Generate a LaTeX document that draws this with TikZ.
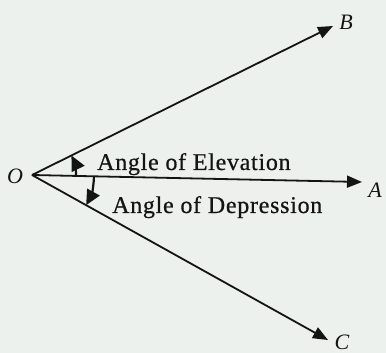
\documentclass[tikz,border=0pt]{standalone}
\usepackage{fontspec}
\setmainfont{Liberation Serif}
\usepackage{xcolor}
\usetikzlibrary{arrows.meta}
\definecolor{scanbg}{HTML}{EDF1EE}
\definecolor{ink}{HTML}{141414}

\begin{document}
\begin{tikzpicture}[x=1pt, y=1pt,
  arrow/.style={-{Triangle[length=15pt, width=12pt]}, line width=1.8pt, ink},
  small/.style={-{Triangle[length=15pt, width=14pt]}, line width=2.2pt, ink},
  pt/.style={font=\fontsize{22}{24}\selectfont\itshape, text=ink, inner sep=0pt},
  lbl/.style={font=\fontsize{24}{26}\selectfont\addfontfeatures{LetterSpace=3, FakeBold=0.6}, text=ink, inner sep=0pt, anchor=base west}
]
  \fill[scanbg] (0,0) rectangle (386,353);
  \useasboundingbox (0,0) rectangle (386,353);

  \coordinate (o) at (32,178);
  \coordinate (a) at (362,171);
  \coordinate (b) at (333,327);
  \coordinate (c) at (328,13);

  \node[pt] (lblO) at (15,177) {O};
  \node[pt] (lblA) at (375,163) {A};
  \node[pt] (lblB) at (346,331) {B};
  \node[pt] (lblC) at (342,11) {C};

  \draw[arrow] (o) -- (a);
  \draw[arrow] (o) -- (b);
  \draw[arrow] (o) -- (c);

  % angle arrows
  \draw[small] ([shift={(-1.2:44)}]o) arc[start angle=-1.2, end angle=26.3, radius=44];
  \draw[small] ([shift={(-1.2:62)}]o) arc[start angle=-1.2, end angle=-29.1, radius=62];

  \node[lbl] (elev) at (97,183) {Angle of Elevation};
  \node[lbl] (depr) at (112,140) {Angle of Depression};
\end{tikzpicture}
\end{document}
